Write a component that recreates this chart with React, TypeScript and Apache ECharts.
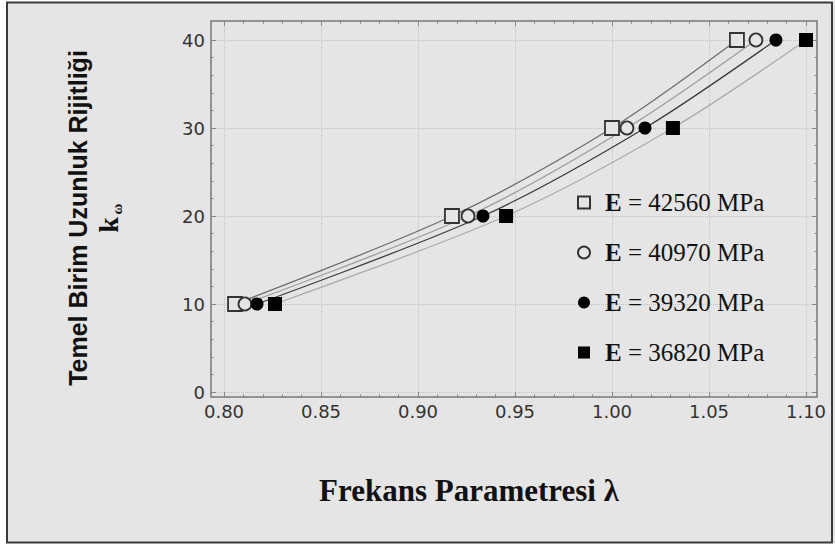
import React, { useEffect, useRef } from "react";
import * as echarts from "echarts";

// ---- data ----
const SERIES_NAMES = ["E = 42560 MPa", "E = 40970 MPa", "E = 39320 MPa", "E = 36820 MPa"];
const K_VALUES = [10, 20, 30, 40];
const LAMBDA_42560 = [0.8057, 0.9175, 1.0, 1.0644];
const LAMBDA_40970 = [0.8108, 0.9258, 1.0077, 1.0742];
const LAMBDA_39320 = [0.817, 0.9335, 1.017, 1.0845];
const LAMBDA_36820 = [0.8263, 0.9454, 1.0314, 1.1];
const X_MIN = 0.8;
const X_MAX = 1.1;
const X_STEP = 0.05;
const Y_MIN = 0;
const Y_MAX = 40;
const Y_STEP = 10;

const BG = "#e5e5e5";
const SERIF = '"Liberation Serif", "Times New Roman", serif';
const SANS = '"Liberation Sans", Arial, sans-serif';
const TICK_FONT = '"DejaVu Sans", sans-serif';

const STYLES = [
  { symbol: "rect", size: 14, fill: BG, border: "#333", bw: 1.8, line: "#6e6e6e" },
  { symbol: "circle", size: 13, fill: BG, border: "#333", bw: 1.8, line: "#9c9c9c" },
  { symbol: "circle", size: 13, fill: "#000", border: "#000", bw: 0, line: "#3c3c3c" },
  { symbol: "rect", size: 14, fill: "#000", border: "#000", bw: 0, line: "#ababab" },
];

const LAMBDAS = [LAMBDA_42560, LAMBDA_40970, LAMBDA_39320, LAMBDA_36820];

export default function App() {
  const ref = useRef<HTMLDivElement>(null);
  useEffect(() => {
    if (!ref.current) return;
    const chart = echarts.init(ref.current, undefined, { renderer: "svg" });

    const pairs = LAMBDAS.map((l) => l.map((x, i) => [x, K_VALUES[i]]));

    const lineSeries = pairs.map((d, i) => ({
      type: "line",
      name: "fit-" + i,
      xAxisIndex: 3,
      yAxisIndex: 3,
      data: d,
      smooth: 0.3,
      showSymbol: false,
      symbol: "none",
      silent: true,
      clip: false,
      z: 3,
      lineStyle: { color: STYLES[i].line, width: 1.3 },
    }));

    const scatterSeries = pairs.map((d, i) => ({
      type: "scatter",
      name: SERIES_NAMES[i],
      xAxisIndex: 3,
      yAxisIndex: 3,
      data: d,
      symbol: STYLES[i].symbol,
      symbolSize: STYLES[i].size,
      clip: false,
      z: 5,
      itemStyle: {
        color: STYLES[i].fill,
        borderColor: STYLES[i].border,
        borderWidth: STYLES[i].bw,
        opacity: 1,
      },
    }));

    const gridLine = { show: true, lineStyle: { color: "#c2c2c2", type: "dotted", width: 1 } };
    const tick = { show: true, inside: true, length: 5, lineStyle: { color: "#888", width: 1 } };
    const minor = { show: true, splitNumber: 5, length: 3, lineStyle: { color: "#999", width: 1 } };

    const option: any = {
      animation: false,
      backgroundColor: BG,
      grid: [
        { left: 211, top: 40, width: 606, height: 352 },
        { left: 224, top: 21, width: 582, height: 376 },
        { left: 224, top: 40, width: 582, height: 352 },
      ],
      xAxis: [
        { gridIndex: 0, type: "value", min: 0, max: 1, show: false },
        {
          gridIndex: 1,
          type: "value",
          position: "bottom",
          min: X_MIN,
          max: X_MAX,
          interval: X_STEP,
          axisLine: { show: false },
          axisTick: tick,
          minorTick: minor,
          splitLine: gridLine,
          axisLabel: {
            margin: 5,
            fontFamily: TICK_FONT,
            fontSize: 18,
            color: "#333",
            formatter: (v: number) => v.toFixed(2),
          },
        },
        {
          gridIndex: 1,
          type: "value",
          position: "top",
          min: X_MIN,
          max: X_MAX,
          interval: X_STEP,
          axisLine: { show: false },
          axisTick: tick,
          minorTick: minor,
          splitLine: { show: false },
          axisLabel: { show: false },
        },
        { gridIndex: 2, type: "value", min: X_MIN, max: X_MAX, show: false },
      ],
      yAxis: [
        {
          gridIndex: 0,
          type: "value",
          position: "left",
          min: Y_MIN,
          max: Y_MAX,
          interval: Y_STEP,
          axisLine: { show: false },
          axisTick: tick,
          minorTick: minor,
          splitLine: gridLine,
          axisLabel: { margin: 6, fontFamily: TICK_FONT, fontSize: 18, color: "#333" },
        },
        {
          gridIndex: 0,
          type: "value",
          position: "right",
          min: Y_MIN,
          max: Y_MAX,
          interval: Y_STEP,
          axisLine: { show: false },
          axisTick: tick,
          minorTick: minor,
          splitLine: { show: false },
          axisLabel: { show: false },
        },
        { gridIndex: 1, type: "value", min: 0, max: 1, show: false },
        { gridIndex: 2, type: "value", min: Y_MIN, max: Y_MAX, show: false },
      ],
      legend: {
        orient: "vertical",
        left: 572,
        top: 185,
        itemWidth: 12,
        itemHeight: 12,
        itemGap: 25,
        selectedMode: false,
        data: SERIES_NAMES,
        formatter: (name: string) => `{b|E}{r|${name.slice(1)}}`,
        textStyle: {
          rich: {
            b: { fontFamily: SERIF, fontWeight: "bold", fontSize: 25, color: "#111", padding: [0, 0, 0, 10], lineHeight: 27 },
            r: { fontFamily: SERIF, fontSize: 25, color: "#111", lineHeight: 27 },
          },
        },
      },
      graphic: [
        // white page margin outside the outer border
        { type: "rect", shape: { x: 0, y: 0, width: 835, height: 2 }, style: { fill: "#fff" }, silent: true },
        { type: "rect", shape: { x: 0, y: 0, width: 6, height: 545 }, style: { fill: "#fff" }, silent: true },
        { type: "rect", shape: { x: 0, y: 543, width: 835, height: 2 }, style: { fill: "#fff" }, silent: true },
        {
          type: "rect",
          shape: { x: 7, y: 2.5, width: 825, height: 540 },
          style: { fill: "none", stroke: "#3a3a3a", lineWidth: 2 },
          silent: true,
          z: 50,
        },
        {
          type: "rect",
          shape: { x: 211, y: 21, width: 606, height: 376 },
          style: { fill: "none", stroke: "#777", lineWidth: 1.5 },
          silent: true,
          z: 50,
        },
        {
          type: "text",
          x: 78,
          y: 218,
          rotation: Math.PI / 2,
          style: {
            text: "Temel Birim Uzunluk Rijitliği",
            fontFamily: SANS,
            fontWeight: "bold",
            fontSize: 25,
            fill: "#111",
            align: "center",
            verticalAlign: "middle",
          },
        },
        {
          type: "text",
          x: 108,
          y: 225,
          rotation: Math.PI / 2,
          style: {
            text: "k",
            fontFamily: SERIF,
            fontWeight: "bold",
            fontSize: 28,
            fill: "#111",
            align: "center",
            verticalAlign: "middle",
          },
        },
        {
          type: "text",
          x: 117,
          y: 209,
          rotation: Math.PI / 2,
          style: {
            text: "ω",
            fontFamily: SERIF,
            fontWeight: "bold",
            fontSize: 15,
            fill: "#111",
            align: "center",
            verticalAlign: "middle",
          },
        },
        {
          type: "text",
          x: 469,
          y: 490,
          style: {
            text: "Frekans Parametresi λ",
            fontFamily: SERIF,
            fontWeight: "bold",
            fontSize: 31,
            fill: "#111",
            align: "center",
            verticalAlign: "middle",
          },
        },
      ],
      series: [...lineSeries, ...scatterSeries],
    };

    chart.setOption(option);
    return () => chart.dispose();
  }, []);

  return (
    <div
      ref={ref}
      style={{ position: "absolute", left: 0, top: 0, width: 835, height: 545 }}
    />
  );
}
